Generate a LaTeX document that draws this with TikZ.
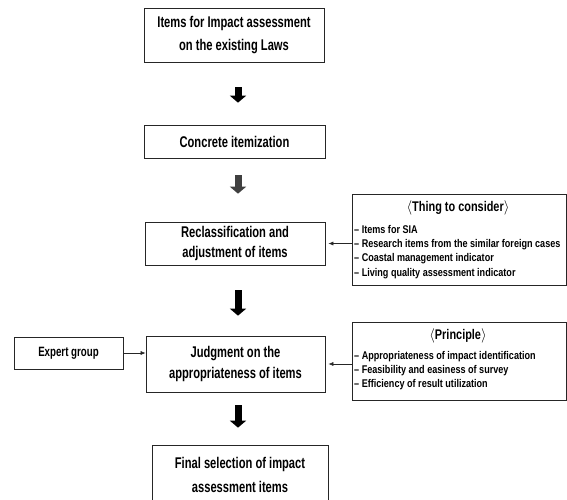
\documentclass[tikz,border=0pt]{standalone}
\usepackage{fontspec}
\setmainfont{Liberation Sans}[FakeStretch=0.72]
\newfontfamily\listfont{Liberation Sans}[FakeStretch=0.81, Ligatures=TeX]
\newfontfamily\hdrfont{Liberation Sans}[FakeStretch=0.78, Ligatures=TeX]
\usetikzlibrary{arrows.meta,calc}
\begin{document}
\begin{tikzpicture}[x=1pt,y=-1pt,
 box/.style={draw=black!85, line width=0.7pt, inner sep=0pt, align=center, font=\fontsize{15.5}{23}\selectfont\bfseries},
 bigarrow/.style={line width=7pt, -{Triangle[width=16pt,length=7pt]}},
 thinarrow/.style={draw=black!85, line width=0.6pt, -{Latex[length=5pt,width=4pt]}},
 hdr/.style={font=\hdrfont\fontsize{14}{16}\selectfont\bfseries, inner sep=0pt},
 lst/.style={font=\listfont\fontsize{11.2}{14.3}\selectfont\bfseries, align=left, inner sep=0pt, anchor=north west},
 sidebox/.style={draw=black!85, line width=0.7pt, inner sep=0pt},
]
\useasboundingbox (0,0) rectangle (567,499);
\fill[white] (0,0) rectangle (567,499);

\node[box, minimum width=180pt, minimum height=54pt] (b1) at (234,35) {Items for Impact assessment\\on the existing Laws};
\node[box, minimum width=181pt, minimum height=33pt] (b2) at (234.5,141.5) {Concrete itemization};
\node[box, minimum width=180pt, minimum height=43pt, font=\fontsize{15.5}{20.5}\selectfont\bfseries] (b3) at (235,243.5) {Reclassification and\\adjustment of items};
\node[box, minimum width=179pt, minimum height=56pt, font=\fontsize{15.5}{21.5}\selectfont\bfseries] (b4) at (235.5,364) {Judgment on the\\appropriateness of items};
\node[box, minimum width=109pt, minimum height=32pt, font=\fontsize{13.5}{16}\selectfont\bfseries] (ex) at (68.5,353) {Expert group};
\node[box, minimum width=176pt, minimum height=60pt, font=\fontsize{15.5}{24}\selectfont\bfseries] (b5) at (240,475) {Final selection of impact\\assessment items};

\node[sidebox, minimum width=214.5pt, minimum height=91pt] (tc) at (459.25,240) {};
\node[hdr] (tch) at (458,208) {$\langle$Thing to consider$\rangle$};
\node[lst] (tcl) at (354,225) {– Items for SIA\\– Research items from the similar foreign cases\\– Coastal management indicator\\– Living quality assessment indicator};

\node[sidebox, minimum width=214.5pt, minimum height=78pt] (pr) at (459.25,361) {};
\node[hdr] (prh) at (458,336) {$\langle$Principle$\rangle$};
\node[lst] (prl) at (354,351) {– Appropriateness of impact identification\\– Feasibility and easiness of survey\\– Efficiency of result utilization};

\draw[bigarrow, shorten <=25pt, shorten >=22pt] ($(b1.south)+(4,0)$) -- ($(b2.north)+(3.5,0)$);
\draw[bigarrow, black!75, shorten <=17pt, shorten >=28pt] ($(b2.south)+(3.5,0)$) -- ($(b3.north)+(3,0)$);
\draw[bigarrow, shorten <=25pt, shorten >=20pt] ($(b3.south)+(3,0)$) -- ($(b4.north)+(2.5,0)$);
\draw[bigarrow, shorten <=13pt, shorten >=17pt] ($(b4.south)+(2.5,0)$) -- ($(b5.north)+(-2,0)$);

\draw[thinarrow, shorten >=3pt] (tc.west |- b3.east) -- (b3.east);
\draw[thinarrow, shorten >=3pt] (pr.west |- b4.east) -- (b4.east);
\draw[thinarrow] (ex.east) -- (b4.west |- ex.east);
\end{tikzpicture}
\end{document}
